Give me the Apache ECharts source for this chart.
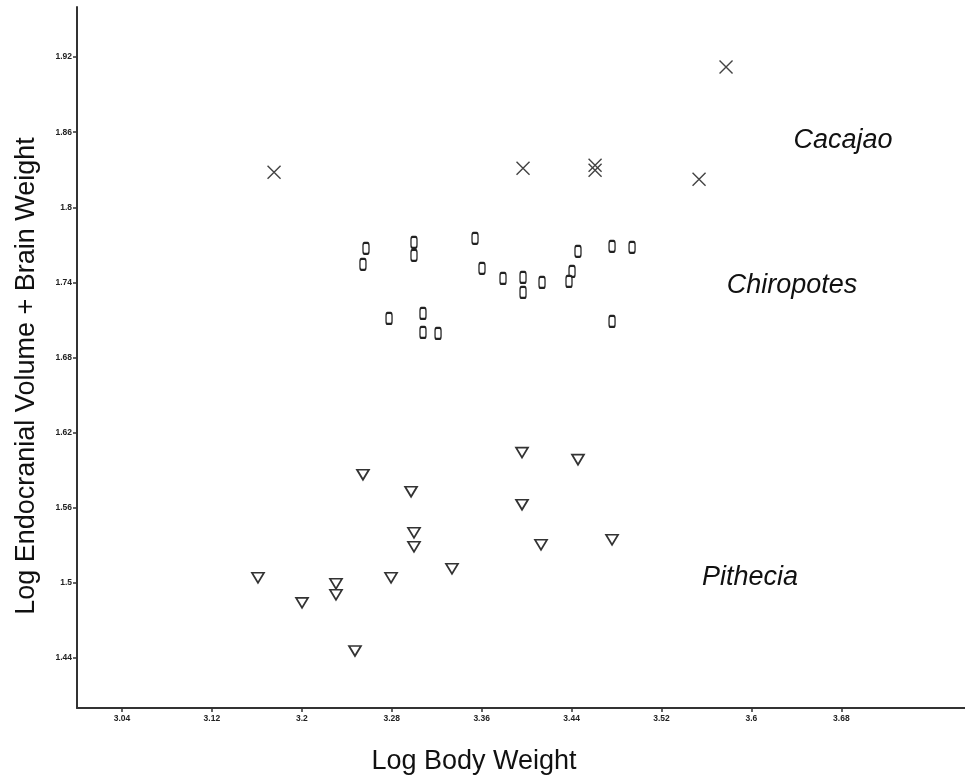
<!DOCTYPE html>
<html>
<head>
<meta charset="utf-8">
<script src="https://cdn.jsdelivr.net/npm/echarts@6/dist/echarts.min.js"></script>
<style>
html,body{margin:0;padding:0;background:#fff;}
#chart{width:965px;height:776px;}
</style>
</head>
<body>
<div id="chart"></div>
<script>
// Tick labels
const xTicks = [3.04, 3.12, 3.2, 3.28, 3.36, 3.44, 3.52, 3.6, 3.68];
const yTicks = [1.44, 1.5, 1.56, 1.62, 1.68, 1.74, 1.8, 1.86, 1.92];

// Cacajao [log body weight, log endocranial volume]
const cacajao = [
  [3.1753, 1.8280], [3.3968, 1.8312], [3.4609, 1.8336], [3.4609, 1.8296],
  [3.5534, 1.8224], [3.5774, 1.9120]
];

// Chiropotes
const chiropotes = [
  [3.2571, 1.7672], [3.2544, 1.7544], [3.2998, 1.7720], [3.2998, 1.7616],
  [3.2776, 1.7112], [3.3078, 1.7152], [3.3078, 1.7000], [3.3212, 1.6992],
  [3.3541, 1.7752], [3.3603, 1.7512], [3.3790, 1.7432], [3.3968, 1.7440],
  [3.3968, 1.7320], [3.4137, 1.7400], [3.4404, 1.7488], [3.4377, 1.7408],
  [3.4457, 1.7648], [3.4760, 1.7688], [3.4938, 1.7680], [3.4760, 1.7088]
];

// Pithecia
const pithecia = [
  [3.1610, 1.5040], [3.2002, 1.4840], [3.2304, 1.4992], [3.2304, 1.4904],
  [3.2473, 1.4456], [3.2544, 1.5864], [3.2794, 1.5040], [3.2972, 1.5728],
  [3.2998, 1.5400], [3.2998, 1.5288], [3.3336, 1.5112], [3.3959, 1.6040],
  [3.3959, 1.5624], [3.4128, 1.5304], [3.4457, 1.5984], [3.4760, 1.5344]
];

// Group annotations
const groupNames = ['Cacajao', 'Chiropotes', 'Pithecia'];
const groupLabelPos = [[3.6815, 1.8536], [3.6361, 1.7376], [3.5988, 1.5040]];

const chart = echarts.init(document.getElementById('chart'), null, {renderer: 'canvas'});

const tickFont = {
  fontFamily: '"Liberation Sans Narrow", "Liberation Sans", Arial, sans-serif',
  fontSize: 8.5, fontWeight: 'bold', color: '#222'
};

const option = {
  backgroundColor: '#fff',
  animation: false,
  grid: {left: 77, right: 0, top: 7, bottom: 68, containLabel: false},
  xAxis: {
    type: 'value', min: 3.0, max: 3.79,
    axisLine: {show: true, onZero: false, lineStyle: {color: '#333', width: 2}},
    axisTick: {show: true, length: 4, customValues: xTicks, lineStyle: {color: '#333', width: 1.5}},
    axisLabel: Object.assign({customValues: xTicks, margin: 6}, tickFont),
    splitLine: {show: false}
  },
  yAxis: {
    type: 'value', min: 1.40, max: 1.96,
    axisLine: {show: true, onZero: false, lineStyle: {color: '#333', width: 2}},
    axisTick: {show: true, length: 4, customValues: yTicks, lineStyle: {color: '#333', width: 1.5}},
    axisLabel: Object.assign({customValues: yTicks, margin: 5}, tickFont),
    splitLine: {show: false}
  },
  graphic: [
    {
      type: 'text',
      position: [474, 762],
      style: {text: 'Log Body Weight', fill: '#111',
        font: '27px "Liberation Sans", Arial, sans-serif', align: 'center', verticalAlign: 'middle'}
    },
    {
      type: 'text',
      position: [27, 376], rotation: Math.PI / 2,
      style: {text: 'Log Endocranial Volume + Brain Weight', fill: '#111',
        font: '27px "Liberation Sans", Arial, sans-serif', align: 'center', verticalAlign: 'middle'}
    }
  ],
  series: [
    {
      name: 'Cacajao', type: 'scatter', data: cacajao,
      symbol: 'path://M0,0L10,10M10,0L0,10', symbolSize: 13,
      itemStyle: {color: 'rgba(0,0,0,0)', borderColor: '#444', borderWidth: 1.4, opacity: 1}
    },
    {
      name: 'Chiropotes', type: 'scatter', data: chiropotes,
      symbol: 'roundRect', symbolSize: [6, 11],
      itemStyle: {color: '#fff', borderColor: '#222', borderWidth: 1.7, opacity: 1}
    },
    {
      name: 'Pithecia', type: 'scatter', data: pithecia,
      symbol: 'path://M0,0L10,0L5,9Z', symbolSize: [12, 10],
      itemStyle: {color: '#fff', borderColor: '#333', borderWidth: 1.7, opacity: 1}
    },
    {
      name: 'labels', type: 'scatter', symbolSize: 0, silent: true,
      itemStyle: {opacity: 1},
      data: groupLabelPos.map((p, i) => ({value: p, name: groupNames[i]})),
      label: {
        show: true, position: 'inside', formatter: p => p.name, opacity: 1,
        fontFamily: '"Liberation Sans", Arial, sans-serif', fontStyle: 'italic',
        fontSize: 27, color: '#111'
      }
    }
  ]
};
chart.setOption(option);
</script>
</body>
</html>
